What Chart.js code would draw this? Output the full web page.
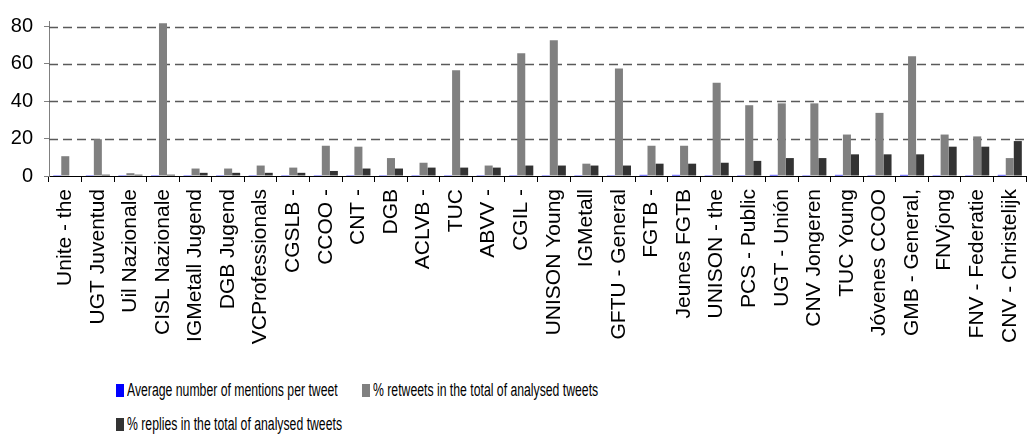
<!DOCTYPE html>
<html lang="en">
<head>
<meta charset="UTF-8">
<title>Union tweets</title>
<script src="https://cdn.jsdelivr.net/npm/chart.js"></script>
<style>
  body { margin: 0; background: #fff; }
  #wrap { position: relative; width: 1032px; height: 436px; overflow: hidden; }
  #grafico { position: absolute; left: 0; top: 0; }
  .leyenda { position: absolute; font-family: 'Liberation Sans', Arial, sans-serif; font-size: 18px; color: #000; white-space: nowrap; }
  .leyenda .caja { position: absolute; left: 0; top: 3px; width: 8px; height: 13px; }
  .leyenda .txt { position: absolute; left: 11px; top: 0; line-height: 19px; transform: scaleX(0.68); transform-origin: left center; }
</style>
</head>
<body>
<div id="wrap">
  <canvas id="grafico" width="1042" height="352"></canvas>
</div>

<script>
// categories (cut short like in the original)
var sindicatos = ["Unite - the", "UGT Juventud", "Uil Nazionale", "CISL Nazionale", "IGMetall Jugend",
  "DGB Jugend", "VCProfessionals", "CGSLB -", "CCOO -", "CNT -", "DGB", "ACLVB -", "TUC", "ABVV -",
  "CGIL -", "UNISON Young", "IGMetall", "GFTU - General", "FGTB -", "Jeunes FGTB", "UNISON - the",
  "PCS - Public", "UGT - Unión", "CNV Jongeren", "TUC Young", "Jóvenes CCOO", "GMB - General,",
  "FNVjong", "FNV - Federatie", "CNV - Christelijk"];

var menciones = [0.1, 0.1, 0.1, 0.1, 0.1, 0.1, 0.1, 0.1, 0.1, 0.1, 0.1, 0.1, 0.1, 0.1, 0.1,
  0.1, 0.1, 0.1, 0.6, 0.6, 0.1, 0.1, 0.6, 0.1, 0.6, 0.1, 0.6, 0.1, 0.1, 0.6];

var retweets = [10.6, 19.7, 1.5, 81.8, 4.0, 4.0, 5.6, 4.5, 16.2, 15.7, 9.6, 7.1, 56.6, 5.6, 65.7,
  72.7, 6.6, 57.6, 16.2, 16.2, 50.0, 37.9, 38.9, 38.9, 22.2, 33.8, 64.1, 22.2, 21.2, 9.6];

var respuestas = [0, 0.7, 0.7, 0.7, 1.7, 1.7, 1.7, 1.7, 2.7, 4.0, 4.0, 4.5, 4.5, 4.5, 5.6,
  5.6, 5.6, 5.6, 6.6, 6.6, 7.1, 8.1, 9.6, 9.6, 11.6, 11.6, 11.6, 15.7, 15.7, 18.7];

var nombresSeries = ["Average number of mentions per tweet", "% retweets in the total of analysed tweets",
  "% replies in the total of analysed tweets"];
var colores = ["#0000ff", "#808080", "#333333"];

var yTicks = [0, 20, 40, 60, 80];

var fuente = "'Liberation Sans', Arial, sans-serif";

// dashed horizontal lines, drawn on the y scale ticks (the built-in ones come out solid here)
var lineasRayadas = {
  id: 'lineasRayadas',
  beforeDatasetsDraw: function (chart) {
    var c = chart.ctx, area = chart.chartArea, y = chart.scales.y;
    c.save();
    c.strokeStyle = '#5a5a5a';
    c.lineWidth = 1.5;
    c.setLineDash([9, 5]);
    y.ticks.forEach(function (t) {
      if (t.value === 0) return;
      var py = Math.round(y.getPixelForValue(t.value)) + 0.5;
      c.beginPath();
      c.moveTo(area.left, py);
      c.lineTo(area.right, py);
      c.stroke();
    });
    c.restore();
  }
};

var ctx = document.getElementById("grafico").getContext("2d");
var grafico = new Chart(ctx, {
  type: 'bar',
  data: {
    labels: sindicatos,
    datasets: [
      { label: nombresSeries[0], data: menciones, backgroundColor: colores[0] },
      { label: nombresSeries[1], data: retweets, backgroundColor: colores[1] },
      { label: nombresSeries[2], data: respuestas, backgroundColor: colores[2] }
    ]
  },
  options: {
    responsive: false,
    animation: false,
    devicePixelRatio: 1,
    layout: { padding: { top: 0, right: 2, left: 0, bottom: 0 } },
    datasets: { bar: { categoryPercentage: 0.74, barPercentage: 1.0 } },
    plugins: { legend: { display: false }, tooltip: { enabled: false } },
    scales: {
      x: {
        grid: { display: true, drawOnChartArea: false, drawTicks: true, tickLength: 6, color: '#000' },
        border: { display: true, color: '#000', width: 1 },
        ticks: {
          autoSkip: false, minRotation: 90, maxRotation: 90, padding: 7,
          color: '#000', font: { family: fuente, size: 21 }
        },
        afterFit: function (axis) { axis.height = 176; }
      },
      y: {
        min: 0,
        max: 83,
        grid: { drawOnChartArea: false, tickLength: 5, color: '#808080' },
        border: { display: true, color: '#808080', width: 1 },
        ticks: {
          padding: 11, color: '#000',
          font: { family: fuente, size: 20, lineHeight: 1 }
        },
        afterBuildTicks: function (axis) {
          axis.ticks = yTicks.map(function (v) { return { value: v }; });
        },
        afterFit: function (axis) { axis.width = 49; }
      }
    }
  },
  plugins: [lineasRayadas]
});

// legend in two rows like the original
var posiciones = [[116, 381], [362, 381], [116, 415]];
var wrap = document.getElementById("wrap");
nombresSeries.forEach(function (nombre, i) {
  var d = document.createElement("div");
  d.className = "leyenda";
  d.style.left = posiciones[i][0] + "px";
  d.style.top = posiciones[i][1] + "px";
  d.innerHTML = '<span class="caja" style="background:' + colores[i] + '"></span><span class="txt"></span>';
  d.querySelector(".txt").textContent = nombre;
  wrap.appendChild(d);
});
</script>
</body>
</html>
